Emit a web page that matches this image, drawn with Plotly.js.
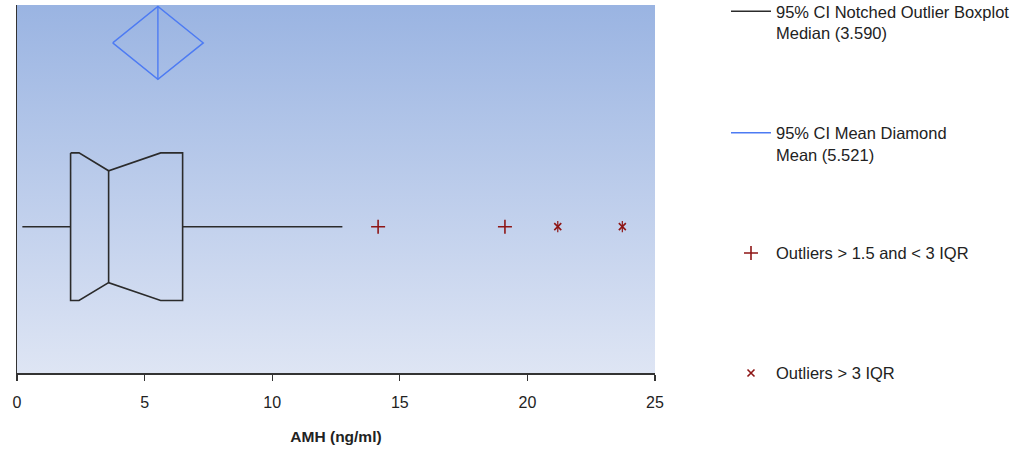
<!DOCTYPE html>
<html>
<head>
<meta charset="utf-8">
<script src="https://cdn.plot.ly/plotly-3.0.1.min.js"></script>
<style>html,body{margin:0;padding:0;background:#fff;}#chart{width:1018px;height:450px;}</style>
</head>
<body>
<div id="chart"></div>
<script>
// ---- data ----
const boxLabels = ['Lower whisker', 'Q1', 'Notch low', 'Median', 'Notch high', 'Q3', 'Upper whisker'];
const boxValues = [0.21, 2.10, 2.43, 3.59, 5.63, 6.49, 12.75];
const meanLabels = ['CI low', 'Mean', 'CI high'];
const meanValues = [3.75, 5.521, 7.30];
const mildOutliers = [14.15, 19.12];
const extremeOutliers = [21.19, 23.72];
const xTicks = [0, 5, 10, 15, 20, 25];
const legendNames = [
  '95% CI Notched Outlier Boxplot<br>Median (' + boxValues[3].toFixed(3) + ')',
  '95% CI Mean Diamond<br>Mean (' + meanValues[1].toFixed(3) + ')',
  'Outliers > 1.5 and < 3 IQR',
  'Outliers > 3 IQR'
];

// ---- geometry (not data) ----
const yc = 0.3976, boxHalf = 0.2005, notchHalf = 0.152;
const dc = 0.897, dHalf = 0.099;
const [wLo, q1, nLo, med, nHi, q3, wHi] = boxValues;
const [cLo, mean, cHi] = meanValues;

const boxX = [q1, nLo, med, nHi, q3, q3, nHi, med, nLo, q1, q1, null,
              med, med, null, wLo, q1, null, q3, wHi];
const boxY = [yc + boxHalf, yc + boxHalf, yc + notchHalf, yc + boxHalf, yc + boxHalf,
              yc - boxHalf, yc - boxHalf, yc - notchHalf, yc - boxHalf, yc - boxHalf, yc + boxHalf, null,
              yc + notchHalf, yc - notchHalf, null, yc, yc, null, yc, yc];

const diaX = [cLo, mean, cHi, mean, cLo, null, mean, mean];
const diaY = [dc, dc + dHalf, dc, dc - dHalf, dc, null, dc + dHalf, dc - dHalf];

const xMin = xTicks[0], xMax = xTicks[xTicks.length - 1];
const red = '#8E1616';

const traces = [
  { // gradient plot background
    type: 'scatter', mode: 'lines', x: [xMin, xMax, xMax, xMin, xMin], y: [0, 0, 1, 1, 0],
    fill: 'toself', line: {width: 0}, showlegend: false, hoverinfo: 'skip',
    fillgradient: {type: 'vertical', colorscale: [[0, '#DEE5F4'], [1, '#9AB4E2']]}
  },
  {
    type: 'scatter', mode: 'lines', x: boxX, y: boxY, name: legendNames[0], legend: 'legend',
    line: {color: '#2b2b2b', width: 1.6}, hoverinfo: 'skip'
  },
  {
    type: 'scatter', mode: 'lines', x: diaX, y: diaY, name: legendNames[1], legend: 'legend2',
    line: {color: '#4D7BF3', width: 1.4}, hoverinfo: 'skip'
  },
  {
    type: 'scatter', mode: 'markers', x: mildOutliers, y: mildOutliers.map(() => yc),
    name: legendNames[2], legend: 'legend3',
    marker: {symbol: 'cross-thin-open', size: 10, color: red, line: {color: red, width: 1.6}}
  },
  {
    type: 'scatter', mode: 'markers', x: extremeOutliers, y: extremeOutliers.map(() => yc),
    name: legendNames[3], legend: 'legend4', legendgroup: 'ext',
    marker: {symbol: 'x-thin-open', size: 7, color: red, line: {color: red, width: 1.6}}
  },
  {
    type: 'scatter', mode: 'markers', x: extremeOutliers, y: extremeOutliers.map(() => yc),
    showlegend: false, legend: 'legend4', legendgroup: 'ext', hoverinfo: 'skip',
    marker: {symbol: 'line-ns-open', size: 8, color: red, line: {color: red, width: 1.2}}
  }
];

function legendAt(yCenter) {
  return {
    xref: 'container', yref: 'container', x: 726 / 1018, xanchor: 'left',
    y: 1 - yCenter / 450, yanchor: 'middle', valign: 'top', itemwidth: 40,
    font: {size: 16.5, color: '#222'}, bgcolor: 'rgba(0,0,0,0)', borderwidth: 0
  };
}

const layout = {
  width: 1018, height: 450,
  margin: {l: 17, r: 363, t: 5, b: 77},
  paper_bgcolor: '#ffffff', plot_bgcolor: '#ffffff',
  font: {family: '"Liberation Sans", Arial, sans-serif', color: '#222'},
  showlegend: true,
  legend: legendAt(22),
  legend2: legendAt(143.5),
  legend3: legendAt(253.3),
  legend4: legendAt(373.3),
  xaxis: {
    range: [xMin, xMax], tickvals: xTicks, ticktext: xTicks.map(String),
    ticks: 'outside', ticklen: 6, tickwidth: 1.3, tickcolor: '#333',
    showline: true, linecolor: '#333', linewidth: 1.5, showgrid: false, zeroline: false,
    tickfont: {size: 16, color: '#222'}, ticklabelstandoff: 8,
    title: {text: '<b>AMH (ng/ml)</b>', font: {size: 15.5, color: '#222'}, standoff: 21}
  },
  yaxis: {
    range: [0, 1], showline: true, linecolor: '#333', linewidth: 1.5,
    showticklabels: false, ticks: '', showgrid: false, zeroline: false, fixedrange: true
  }
};

Plotly.newPlot('chart', traces, layout, {displayModeBar: false, staticPlot: true});
</script>
</body>
</html>
